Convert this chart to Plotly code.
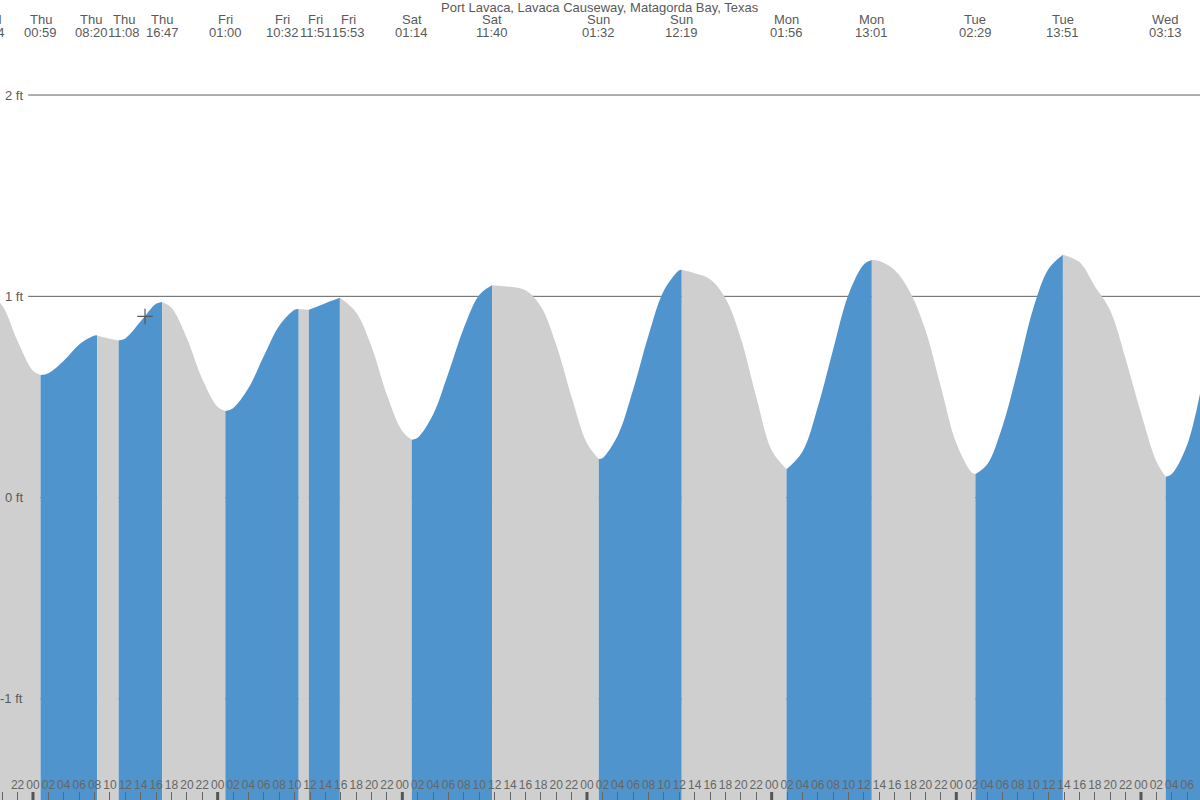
import plotly.graph_objects as go

# ---------------- data ----------------
TITLE = "Port Lavaca, Lavaca Causeway, Matagorda Bay, Texas"

# tide extremes (day name, day offset from Thursday, time, height in ft)
EXT_DAY = ["Wed", "Thu", "Thu", "Thu", "Thu", "Fri", "Fri", "Fri", "Fri",
           "Sat", "Sat", "Sun", "Sun", "Mon", "Mon", "Tue", "Tue", "Wed"]
EXT_DAY_OFFSET = [-1, 0, 0, 0, 0, 1, 1, 1, 1, 2, 2, 3, 3, 4, 4, 5, 5, 6]
EXT_TIME = ["18:14", "00:59", "08:20", "11:08", "16:47", "01:00", "10:32", "11:51", "15:53",
            "01:14", "11:40", "01:32", "12:19", "01:56", "13:01", "02:29", "13:51", "03:13"]
EXT_FT = [1.02, 0.609, 0.806, 0.780, 0.972, 0.430, 0.937, 0.933, 0.993,
          0.288, 1.055, 0.192, 1.132, 0.141, 1.180, 0.117, 1.207, 0.104]

# tide height read at intermediate hours (hours since Thursday 00:00)
SAMPLE_HOURS = [-4, -2, 0, 2, 4, 6, 8, 10, 12, 14, 16, 18, 20, 22, 24, 26, 28, 30, 32, 34,
                38, 42, 44, 46, 48, 50, 52, 54, 56, 58, 60, 62, 64, 66, 68, 70, 72, 74,
                76, 78, 80, 82, 84, 86, 88, 90, 92, 94, 96, 100, 102, 104, 106, 108,
                110, 112, 114, 116, 118, 120, 122, 124, 126, 128, 130, 132, 136, 138,
                140, 142, 144, 146, 148, 150, 152]
SAMPLE_FT = [0.954, 0.777, 0.630, 0.618, 0.680, 0.761, 0.805, 0.789, 0.791, 0.876, 0.963,
             0.943, 0.792, 0.589, 0.450, 0.444, 0.544, 0.703, 0.854, 0.933,
             0.966, 0.920, 0.750, 0.510, 0.330, 0.298, 0.413, 0.620, 0.844, 1.007,
             1.054, 1.047, 1.030, 0.950, 0.760, 0.500, 0.270, 0.196,
             0.309, 0.537, 0.807, 1.029, 1.130, 1.115, 1.085, 0.990, 0.790, 0.500, 0.235,
             0.228, 0.450, 0.737, 1.010, 1.159,
             1.175, 1.130, 1.020, 0.830, 0.550, 0.270, 0.125, 0.164, 0.355, 0.637, 0.940,
             1.137, 1.170, 1.050, 0.930, 0.690, 0.420, 0.180, 0.118, 0.263, 0.580]

# current-time marker
NOW_HOUR = 14.56
NOW_FT = 0.90

HOUR_TICKS = list(range(-4, 152, 2))
HOUR_TICK_LABELS = ["%02d" % (h % 24) for h in HOUR_TICKS]
MIDNIGHTS = [0, 24, 48, 72, 96, 120, 144]
Y_LABEL_VALUES = [2, 1, 0, -1]
Y_LABEL_TEXT = ["2 ft", "1 ft", "0 ft", "-1 ft"]

X_RANGE = [-4.289, 151.67]
Y_RANGE = [-1.502, 2.472]

RISING_COLOR = "#4f94cd"
FALLING_COLOR = "#cfcfcf"
TEXT_COLOR = "#5a5a5a"
FONT = "Liberation Sans, Arial, sans-serif"
FONT_SIZE = 13
TICK_FONT_SIZE = 12
LABEL_MIN_GAP_HOURS = 4.3   # top labels are spread apart so they do not collide

# ---------------- build ----------------
ext_hours = [d * 24 + int(t[:2]) + int(t[3:]) / 60.0 for d, t in zip(EXT_DAY_OFFSET, EXT_TIME)]

points = sorted(list(zip(ext_hours, EXT_FT)) + list(zip(SAMPLE_HOURS, SAMPLE_FT)))
ext_set = set(ext_hours)

segments = []
current = []
for h, v in points:
    current.append((h, v))
    if h in ext_set and len(current) > 1:
        segments.append(current)
        current = [(h, v)]
if len(current) > 1:
    segments.append(current)

# spread top labels: clusters evenly spaced around their mean
clusters = [[h] for h in ext_hours]
changed = True
while changed:
    changed = False
    placed = []
    for c in clusters:
        mean = sum(c) / len(c)
        start = mean - (len(c) - 1) * LABEL_MIN_GAP_HOURS / 2
        placed.append((start, start + (len(c) - 1) * LABEL_MIN_GAP_HOURS))
    for i in range(len(clusters) - 1):
        if placed[i + 1][0] - placed[i][1] < LABEL_MIN_GAP_HOURS:
            clusters[i] = clusters[i] + clusters[i + 1]
            del clusters[i + 1]
            changed = True
            break
label_hours = []
for c in clusters:
    mean = sum(c) / len(c)
    start = mean - (len(c) - 1) * LABEL_MIN_GAP_HOURS / 2
    label_hours += [start + k * LABEL_MIN_GAP_HOURS for k in range(len(c))]

fig = go.Figure()
for seg in segments:
    xs = [p[0] for p in seg]
    ys = [p[1] for p in seg]
    color = RISING_COLOR if ys[-1] > ys[0] else FALLING_COLOR
    fig.add_trace(go.Scatter(x=[xs[0], xs[-1]], y=[Y_RANGE[0], Y_RANGE[0]], mode="lines",
                             line=dict(width=0, color=color), hoverinfo="skip"))
    fig.add_trace(go.Scatter(x=xs, y=ys, mode="lines", fill="tonexty", fillcolor=color,
                             line=dict(width=0, color=color, shape="spline", smoothing=1),
                             hoverinfo="skip"))

fig.add_trace(go.Scatter(x=[NOW_HOUR], y=[NOW_FT], mode="markers",
                         marker=dict(symbol="cross-thin", size=11,
                                     line=dict(width=1.2, color="#555555")),
                         hoverinfo="skip"))

shapes = []
for v in Y_LABEL_VALUES:
    shapes.append(dict(type="line", xref="paper", yref="y", x0=0.0235, x1=1, y0=v, y1=v,
                       line=dict(color="#606060", width=1), layer="below"))
for m in MIDNIGHTS:
    shapes.append(dict(type="line", xref="x", yref="paper", x0=m, x1=m, y0=0, y1=0.01,
                       line=dict(color="#555555", width=3), layer="above"))

annotations = [dict(text=TITLE, xref="paper", yref="paper", x=0.5, y=1, xanchor="center",
                    yanchor="middle", yshift=-7, showarrow=False,
                    font=dict(family=FONT, size=FONT_SIZE, color=TEXT_COLOR))]
for v, t in zip(Y_LABEL_VALUES, Y_LABEL_TEXT):
    annotations.append(dict(text=t, xref="paper", yref="y", x=0.0205, y=v, xanchor="right",
                            yanchor="middle", showarrow=False,
                            font=dict(family=FONT, size=FONT_SIZE, color=TEXT_COLOR)))
span = X_RANGE[1] - X_RANGE[0]
for h, d, t in zip(label_hours, EXT_DAY, EXT_TIME):
    xp = (h - X_RANGE[0]) / span
    annotations.append(dict(text=d, xref="paper", yref="paper", x=xp, y=1, xanchor="center",
                            yanchor="middle", yshift=-19, showarrow=False,
                            font=dict(family=FONT, size=FONT_SIZE, color=TEXT_COLOR)))
    annotations.append(dict(text=t, xref="paper", yref="paper", x=xp, y=1, xanchor="center",
                            yanchor="middle", yshift=-32, showarrow=False,
                            font=dict(family=FONT, size=FONT_SIZE, color=TEXT_COLOR)))

fig.update_layout(
    template="none",
    width=1200, height=800,
    margin=dict(l=0, r=0, t=0, b=0, pad=0),
    paper_bgcolor="white", plot_bgcolor="white",
    showlegend=False,
    font=dict(family=FONT, size=FONT_SIZE, color=TEXT_COLOR),
    xaxis=dict(range=X_RANGE, tickvals=HOUR_TICKS, ticktext=HOUR_TICK_LABELS,
               ticks="inside", ticklen=8, tickwidth=1, tickcolor="#666666", tickangle=0,
               ticklabelposition="inside",
               tickfont=dict(family=FONT, size=TICK_FONT_SIZE, color="#666666"),
               showgrid=False, zeroline=False, showline=False, fixedrange=True,
               automargin=False),
    yaxis=dict(range=Y_RANGE, showticklabels=False, showgrid=False, zeroline=False,
               showline=False, fixedrange=True, automargin=False, ticks=""),
    shapes=shapes,
    annotations=annotations,
)

fig.write_html("out.html", config={"displayModeBar": False},
               post_script="document.body.style.margin='0';document.body.style.overflow='hidden';")
